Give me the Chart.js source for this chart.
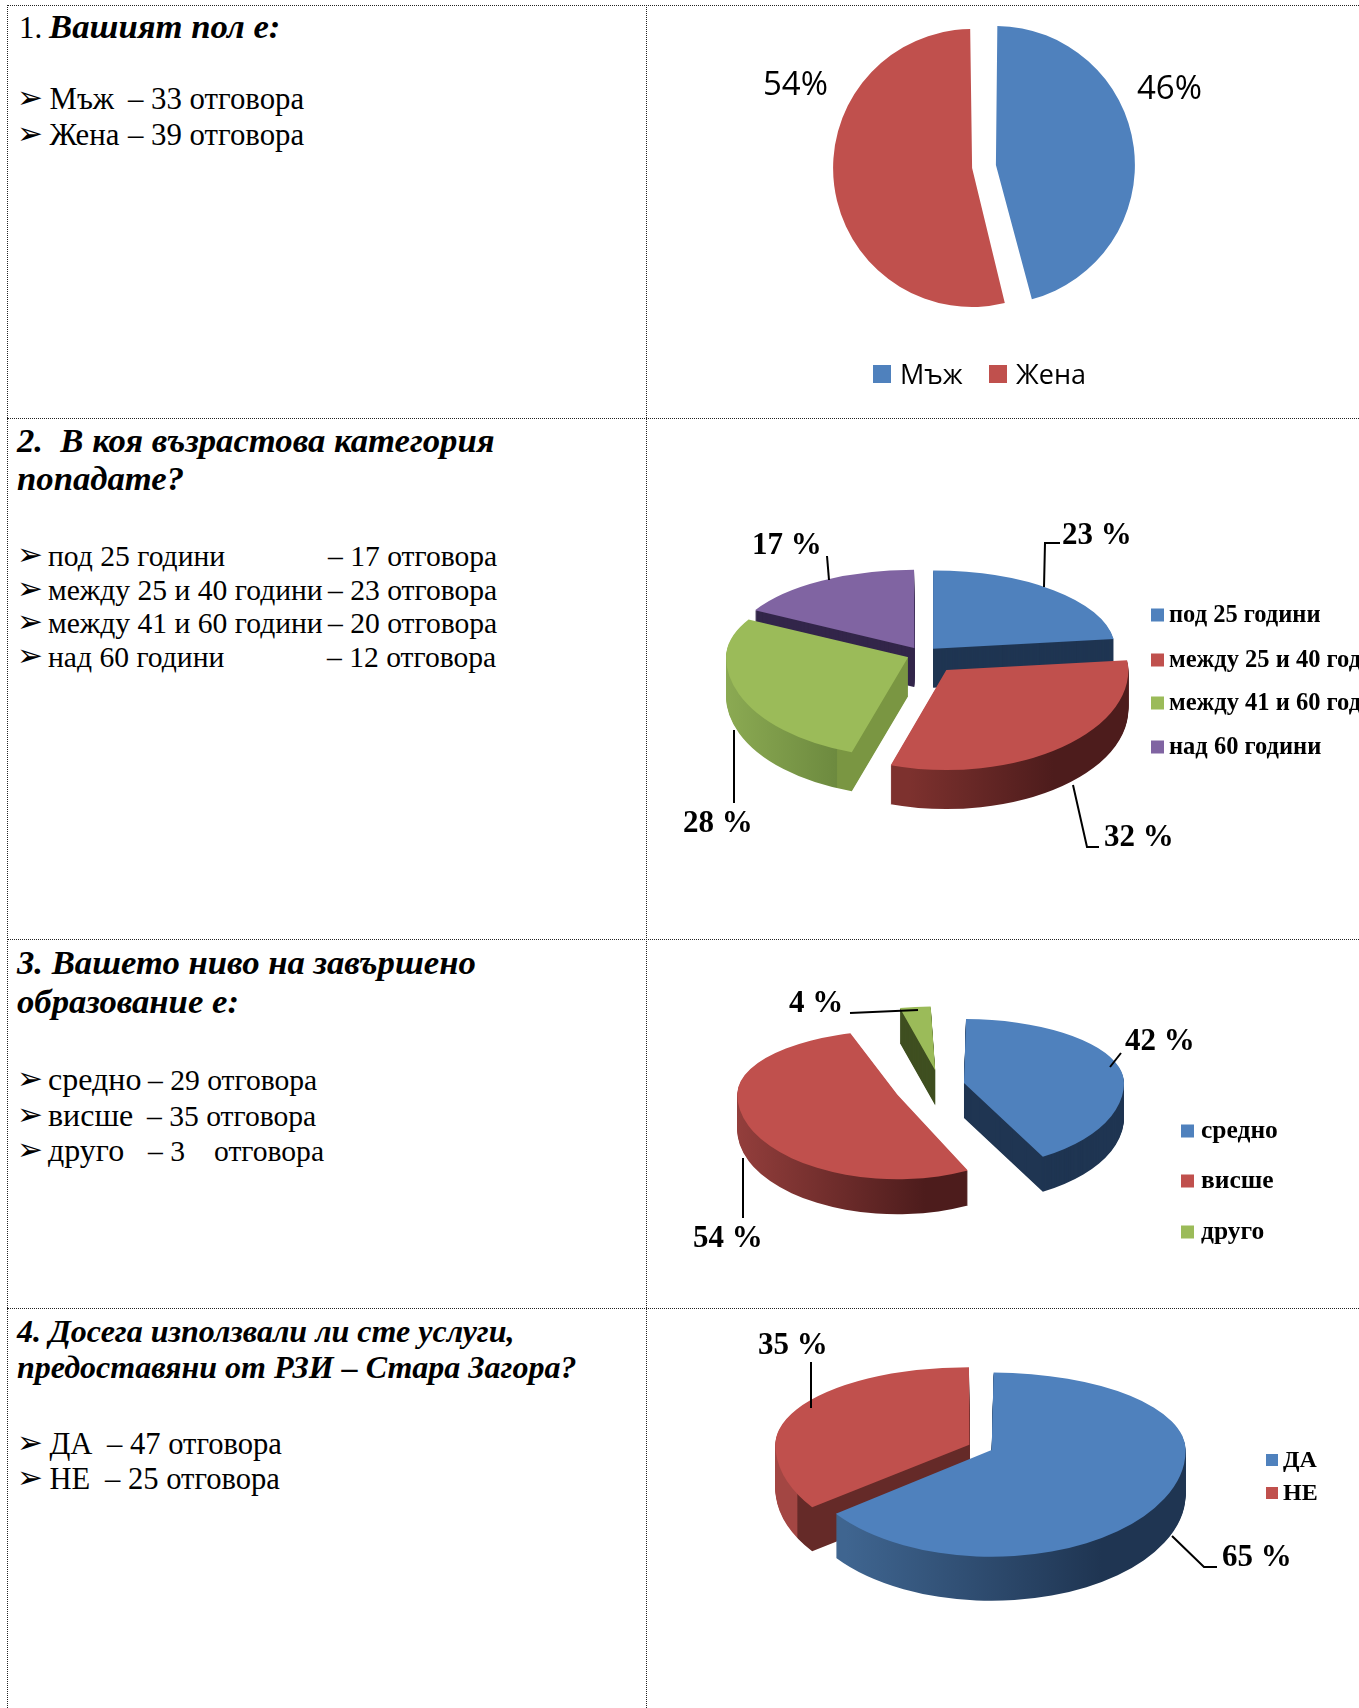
<!DOCTYPE html>
<html lang="bg">
<head>
<meta charset="utf-8">
<title>Анкета</title>
<script src="https://cdn.jsdelivr.net/npm/chart.js@4"></script>
<style>
    html, body { margin: 0; padding: 0; background: #fff; }
    body { position: relative; width: 1359px; height: 1708px; overflow: hidden; font-family: "Liberation Serif", serif; color: #000; }
    canvas { position: absolute; left: 647px; }
    .line { position: absolute; white-space: pre; line-height: normal; }
    .title { font-weight: bold; font-style: italic; }
    .bullet { font-family: "DejaVu Sans", sans-serif; }
    .rule-h { position: absolute; left: 7px; right: 0; height: 0; border-top: 1px dotted #222; }
    .rule-v { position: absolute; top: 5px; bottom: 0; width: 0; border-left: 1px dotted #222; }
</style>
</head>
<body>
<script>
// Survey answers, in percent as printed next to each pie
const genderLabels = ['Мъж', 'Жена'];
const genderValues = [46, 54];
const ageLabels = ['под 25 години', 'между 25 и 40 години', 'между 41 и 60 години', 'над 60 години'];
const ageValues = [23, 32, 28, 17];
const eduLabels = ['средно', 'висше', 'друго'];
const eduValues = [42, 54, 4];
const usedLabels = ['ДА', 'НЕ'];
const usedValues = [65, 35];

const BLUE = '#4f81bd', RED = '#c0504d', GREEN = '#9bbb59', PURPLE = '#8064a2';

// Text of the left column: [text, x, baseline, class, size]
const leftLines = [
    ['1.', 19, 38, '', 30.8],
    ['Вашият пол е:', 49, 38, 'title', 34.7],
    ['Мъж', 49.5, 109, '', 30.8], ['– 33 отговора', 128, 109, '', 30.8],
    ['Жена', 49.5, 145, '', 30.8], ['– 39 отговора', 128, 145, '', 30.8],

    ['2.  В коя възрастова категория', 17, 452, 'title', 34.7],
    ['попадате?', 17, 490, 'title', 34.7],
    ['под 25 години', 48, 566, '', 29.6], ['– 17 отговора', 328, 566, '', 29.6],
    ['между 25 и 40 години', 48, 600, '', 29.6], ['– 23 отговора', 328, 600, '', 29.6],
    ['между 41 и 60 години', 48, 633, '', 29.6], ['– 20 отговора', 328, 633, '', 29.6],
    ['над 60 години', 48, 667, '', 29.6], ['– 12 отговора', 327, 667, '', 29.6],

    ['3. Вашето ниво на завършено', 17, 974, 'title', 34.7],
    ['образование е:', 17, 1013, 'title', 34.7],
    ['средно', 48, 1090, '', 32], ['– 29 отговора', 148, 1090, '', 29.6],
    ['висше', 48, 1126, '', 32], ['– 35 отговора', 147, 1126, '', 29.6],
    ['друго', 48, 1161, '', 32], ['– 3', 148, 1161, '', 29.6], ['отговора', 214, 1161, '', 29.6],

    ['4. Досега използвали ли сте услуги,', 17, 1342, 'title', 32],
    ['предоставяни от РЗИ – Стара Загора?', 17, 1378, 'title', 32],
    ['ДА', 49.5, 1454, '', 30.6], ['– 47 отговора', 107, 1454, '', 30.6],
    ['НЕ', 49.5, 1489, '', 30.6], ['– 25 отговора', 105, 1489, '', 30.6]
];
const bulletLines = [
    [109, 145], [566, 600, 633, 667], [1090, 1126, 1161], [1454, 1489]
];

function addLine(text, x, baseline, cls, size) {
    const el = document.createElement('div');
    el.className = 'line ' + cls;
    el.textContent = text;
    el.style.left = x + 'px';
    el.style.top = (baseline - 0.891 * size) + 'px';
    el.style.fontSize = size + 'px';
    document.body.appendChild(el);
}

leftLines.forEach(l => addLine(l[0], l[1], l[2], l[3], l[4]));
bulletLines.flat().forEach(y => {
    const el = document.createElement('div');
    el.className = 'line bullet';
    el.textContent = '➢';
    el.style.left = '17px';
    el.style.top = (y - 30) + 'px';
    el.style.fontSize = '31px';
    document.body.appendChild(el);
});

// Dotted table rules
[5, 418, 939, 1308].forEach(y => {
    const el = document.createElement('div');
    el.className = 'rule-h';
    el.style.top = y + 'px';
    document.body.appendChild(el);
});
[7, 646].forEach(x => {
    const el = document.createElement('div');
    el.className = 'rule-v';
    el.style.left = x + 'px';
    document.body.appendChild(el);
});

// Draws one slice with separate vertical squash behind and in front of its apex,
// which gives the slightly egg shaped outline of a pie seen in perspective
function drawSlice(chart, arc, drop, fill, tiltBack, tiltFront) {
    const ctx = chart.ctx;
    const saved = arc.options;
    const outer = arc.outerRadius;
    const pull = (saved.offset || 0) / 4;
    if (fill) {
        arc.options = Object.create(saved, { backgroundColor: { value: fill } });
    }
    // arc.draw widens slices by offset * (1 - sin(circumference)), undo that so all stay the same size
    arc.outerRadius = outer - pull * (1 - Math.sin(Math.min(Math.PI, arc.circumference)));
    const half = (arc.startAngle + arc.endAngle) / 2;
    const lift = Math.sin(half) * pull;
    const apexY = arc.y + lift * (lift > 0 ? tiltFront : tiltBack) + drop;
    // whole pixel split, a fractional clip edge leaves a visible seam
    const seam = Math.round(apexY);

    ctx.save();
    ctx.beginPath();
    ctx.rect(0, 0, chart.width, seam);
    ctx.clip();
    ctx.translate(0, apexY);
    ctx.scale(1, tiltBack);
    ctx.translate(0, -(arc.y + lift));
    arc.draw(ctx);
    ctx.restore();

    ctx.save();
    ctx.beginPath();
    ctx.rect(0, seam, chart.width, chart.height - seam);
    ctx.clip();
    ctx.translate(0, apexY);
    ctx.scale(1, tiltFront);
    ctx.translate(0, -(arc.y + lift));
    arc.draw(ctx);
    ctx.restore();

    arc.options = saved;
    arc.outerRadius = outer;
}

function sideFill(ctx, stops, left) {
    if (stops.length === 1) return stops[0][1];
    const x0 = stops[0][0] - left;
    const x1 = stops[stops.length - 1][0] - left;
    const grad = ctx.createLinearGradient(x0, 0, x1, 0);
    stops.forEach(s => grad.addColorStop((s[0] - left - x0) / (x1 - x0), s[1]));
    return grad;
}

// Replaces the normal arc drawing: back slices first, each with its side wall
const cakePlugin = {
    id: 'cake',
    beforeDatasetsDraw(chart, args, opts) {
        const arcs = chart.getDatasetMeta(0).data;
        const mid = a => (a.startAngle + a.endAngle) / 2;
        const order = arcs.map((a, i) => i).sort((p, q) => Math.sin(mid(arcs[p])) - Math.sin(mid(arcs[q])));
        order.forEach(i => {
            if (opts.depth) {
                const fill = sideFill(chart.ctx, opts.sides[i], opts.left);
                for (let d = opts.depth; d > 0; d--) {
                    drawSlice(chart, arcs[i], d, fill, opts.tiltBack, opts.tiltFront);
                }
            }
            drawSlice(chart, arcs[i], 0, null, opts.tiltBack, opts.tiltFront);
        });
        return false;
    }
};

// Value callouts with leader lines, plus the legend squares and names
const notesPlugin = {
    id: 'notes',
    afterDraw(chart, args, opts) {
        const ctx = chart.ctx;
        const values = chart.data.datasets[0].data;
        const colors = chart.data.datasets[0].backgroundColor;
        ctx.save();
        ctx.translate(-opts.left, -opts.top);
        ctx.fillStyle = '#000';
        ctx.strokeStyle = '#000';
        ctx.lineWidth = 2;
        ctx.textAlign = 'left';
        ctx.textBaseline = 'alphabetic';
        ctx.font = opts.valueFont;
        opts.callouts.forEach((c, i) => {
            if (c.line) {
                ctx.beginPath();
                c.line.forEach((p, k) => k ? ctx.lineTo(p[0], p[1]) : ctx.moveTo(p[0], p[1]));
                ctx.stroke();
            }
            ctx.fillText(values[i] + opts.suffix, c.x, c.y);
        });
        ctx.font = opts.legendFont;
        chart.data.labels.forEach((name, i) => {
            const item = opts.legend[i];
            ctx.fillStyle = colors[i];
            ctx.fillRect(item.x, item.y - opts.box / 2, opts.box, opts.box);
            ctx.fillStyle = '#000';
            ctx.fillText(name, item.x + opts.box + opts.boxGap, item.y + opts.textDrop);
        });
        ctx.restore();
    }
};

// Pie in a canvas spanning one table row, its centre placed with layout padding
function makePie(cfg) {
    const canvas = document.createElement('canvas');
    const left = 647, width = 712;
    const height = cfg.bottom - cfg.top;
    canvas.width = width;
    canvas.height = height;
    canvas.style.top = cfg.top + 'px';
    document.body.appendChild(canvas);

    const cx = cfg.cx - left, cy = cfg.cy - cfg.top;
    new Chart(canvas.getContext('2d'), {
        type: 'pie',
        data: {
            labels: cfg.labels,
            datasets: [{
                data: cfg.values,
                backgroundColor: cfg.colors,
                borderWidth: 0,
                offset: cfg.offsets,
                radius: cfg.radius
            }]
        },
        options: {
            responsive: false,
            animation: false,
            events: [],
            layout: {
                padding: {
                    left: Math.max(0, 2 * cx - width),
                    right: Math.max(0, width - 2 * cx),
                    top: Math.max(0, 2 * cy - height),
                    bottom: Math.max(0, height - 2 * cy)
                }
            },
            plugins: {
                legend: { display: false },
                tooltip: { enabled: false },
                cake: {
                    depth: cfg.depth, tiltBack: cfg.tiltBack, tiltFront: cfg.tiltFront,
                    sides: cfg.sides, left: left
                },
                notes: {
                    left: left, top: cfg.top,
                    suffix: cfg.suffix, valueFont: cfg.valueFont, callouts: cfg.callouts,
                    legendFont: cfg.legendFont, legend: cfg.legend,
                    box: cfg.box, boxGap: cfg.boxGap, textDrop: cfg.textDrop
                }
            }
        },
        plugins: [cakePlugin, notesPlugin]
    });
}

const boldFont = 'bold 31px "Liberation Serif"';
const NAVY = '#1f3552';

makePie({
    top: 6, bottom: 417, cx: 984, cy: 166.5, radius: 139,
    labels: genderLabels, values: genderValues, colors: [BLUE, RED], offsets: [48, 48],
    depth: 0, tiltBack: 1, tiltFront: 1, sides: [],
    suffix: '%', valueFont: '33px "Open Sans"',
    callouts: [{ x: 1137, y: 99 }, { x: 763, y: 95 }],
    legendFont: '27px "Open Sans"',
    legend: [{ x: 873, y: 374 }, { x: 989, y: 374 }],
    box: 18, boxGap: 9, textDrop: 10
});

makePie({
    top: 419, bottom: 938, cx: 922.5, cy: 654, radius: 182,
    labels: ageLabels, values: ageValues, colors: [BLUE, RED, GREEN, PURPLE],
    offsets: [64, 150, 62, 64],
    depth: 39, tiltBack: 0.43, tiltFront: 0.55,
    sides: [
        [[0, NAVY]],
        [[885, '#7d312e'], [1030, '#4d1c1c']],
        [[726, '#8fae55'], [851, '#6d8a3f'], [852, '#7a9642'], [920, '#7a9642']],
        [[0, '#33264a']]
    ],
    suffix: ' %', valueFont: boldFont,
    callouts: [
        { x: 1062, y: 544, line: [[1044, 587], [1045, 543], [1060, 543]] },
        { x: 1104, y: 846, line: [[1073, 785], [1087, 847], [1099, 847]] },
        { x: 683, y: 832, line: [[734, 730], [734, 803]] },
        { x: 752, y: 554, line: [[829, 580], [827, 556]] }
    ],
    legendFont: 'bold 24.5px "Liberation Serif"',
    legend: [{ x: 1151, y: 615 }, { x: 1151, y: 660 }, { x: 1151, y: 703 }, { x: 1151, y: 747 }],
    box: 13, boxGap: 5, textDrop: 7
});

makePie({
    top: 940, bottom: 1307, cx: 940, cy: 1085.5, radius: 160,
    labels: eduLabels, values: eduValues, colors: [BLUE, RED, GREEN], offsets: [99, 184, 152],
    depth: 35, tiltBack: 0.40, tiltFront: 0.53,
    sides: [
        [[0, NAVY]],
        [[738, '#a34643'], [968, '#4d1c1c']],
        [[0, '#3f4f20']]
    ],
    suffix: ' %', valueFont: boldFont,
    callouts: [
        { x: 1125, y: 1050, line: [[1110, 1067], [1121, 1053]] },
        { x: 693, y: 1247, line: [[743, 1158], [743, 1218]] },
        { x: 789, y: 1012, line: [[850, 1013], [918, 1010]] }
    ],
    legendFont: 'bold 25.5px "Liberation Serif"',
    legend: [{ x: 1181, y: 1131 }, { x: 1181, y: 1181 }, { x: 1181, y: 1232 }],
    box: 13, boxGap: 7, textDrop: 7
});

makePie({
    top: 1309, bottom: 1708, cx: 980.5, cy: 1447, radius: 194,
    labels: usedLabels, values: usedValues, colors: [BLUE, RED], offsets: [50, 50],
    depth: 44, tiltBack: 0.40, tiltFront: 0.55,
    sides: [
        [[835, '#3f6590'], [1090, NAVY]],
        [[773, '#a34643'], [808, '#a34643'], [809, '#652a28'], [980, '#652a28']]
    ],
    suffix: ' %', valueFont: boldFont,
    callouts: [
        { x: 1222, y: 1566, line: [[1172, 1536], [1204, 1567], [1217, 1567]] },
        { x: 758, y: 1354, line: [[811, 1362], [811, 1408]] }
    ],
    legendFont: 'bold 24px "Liberation Serif"',
    legend: [{ x: 1266, y: 1460 }, { x: 1266, y: 1493 }],
    box: 12, boxGap: 5, textDrop: 7
});
</script>
</body>
</html>
